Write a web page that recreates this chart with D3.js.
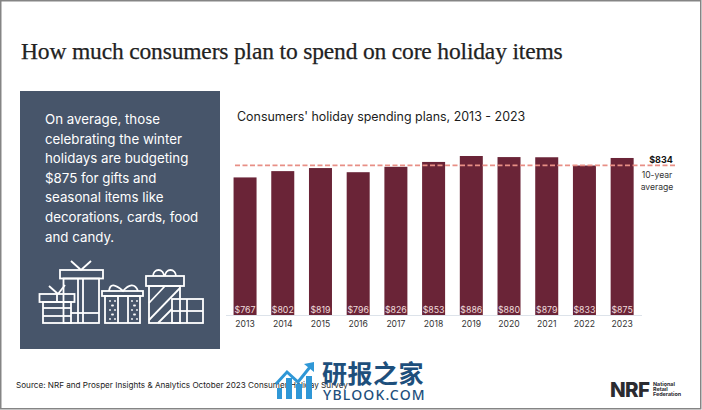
<!DOCTYPE html>
<html><head><meta charset="utf-8">
<script src="https://cdn.jsdelivr.net/npm/d3@7"></script>
<style>html,body{margin:0;padding:0;background:#fff}svg{display:block}text{font-family:Inter,"Open Sans",sans-serif}</style>
</head><body><svg id="c" width="702" height="410"></svg>
<script>
const years=["2013","2014","2015","2016","2017","2018","2019","2020","2021","2022","2023"];
const spending=[767,802,819,796,826,853,886,880,879,833,875];
const average=834;
const panelLines=["On average, those","celebrating the winter","holidays are budgeting","$875 for gifts and","seasonal items like","decorations, cards, food","and candy."];
const svg=d3.select("#c");
const barColor="#6a2437", panel="#47556a", ink="#1c1c1c";
svg.append("rect").attr("x",.75).attr("y",.75).attr("width",700).attr("height",408).attr("fill","#fff").attr("stroke","#858585").attr("stroke-width",1.5);
svg.append("text").attr("x",21).attr("y",59).attr("font-size",23.5).style("font-family","'Liberation Serif',serif").attr("letter-spacing",-.16).attr("stroke","#222").attr("stroke-width",.25).attr("fill","#222").text("How much consumers plan to spend on core holiday items");
svg.append("rect").attr("x",20).attr("y",91).attr("width",200).attr("height",258).attr("fill",panel);
svg.append("g").selectAll("text").data(panelLines).join("text").attr("x",45).attr("y",(d,i)=>124+i*19.6).attr("font-size",13.3).attr("fill","#fff").text(d=>d);
svg.append("text").attr("x",237).attr("y",121).attr("font-size",12.45).attr("fill",ink).text("Consumers' holiday spending plans, 2013 - 2023");
const x=d3.scaleBand().domain(years).range([226.2,641]).paddingInner(.39).paddingOuter(.195);
const y=d3.scaleLinear().domain([0,886]).range([315.5,156]);
svg.append("g").selectAll("rect").data(spending).join("rect").attr("x",(d,i)=>x(years[i])).attr("width",x.bandwidth()).attr("y",d=>y(d)).attr("height",d=>y(0)-y(d)).attr("fill",barColor);
svg.append("line").attr("x1",226).attr("x2",642).attr("y1",y(0)).attr("y2",y(0)).attr("stroke","#dde3ea");
svg.append("g").selectAll("text").data(spending).join("text").attr("x",(d,i)=>x(years[i])+x.bandwidth()/2).attr("y",312.5).attr("text-anchor","middle").attr("font-size",8.8).attr("fill","#efdcdc").text(d=>"$"+d);
svg.append("g").selectAll("text").data(years).join("text").attr("x",d=>x(d)+x.bandwidth()/2).attr("y",327).attr("text-anchor","middle").attr("font-size",8.6).attr("fill","#333").text(d=>d);
svg.append("line").attr("x1",235).attr("x2",675).attr("y1",y(average)).attr("y2",y(average)).attr("stroke","#e88f86").attr("stroke-width",1.8).attr("stroke-dasharray","5 2.5");
svg.append("text").attr("x",661).attr("y",163).attr("text-anchor","middle").attr("font-size",9).attr("font-weight",700).attr("fill","#111").text("$"+average);
svg.append("text").attr("x",657).attr("y",178).attr("text-anchor","middle").attr("font-size",8.6).attr("fill","#333").text("10-year");
svg.append("text").attr("x",657).attr("y",190).attr("text-anchor","middle").attr("font-size",8.6).attr("fill","#333").text("average");
svg.append("text").attr("x",16).attr("y",388).attr("font-size",8.15).attr("fill","#222").text("Source: NRF and Prosper Insights & Analytics October 2023 Consumer Holiday Survey");

// gift icon
const g=svg.append("g").attr("fill","none").attr("stroke","#fff").attr("stroke-width",1.8);
const boxes=[[39.5,294,35,8],[43,302,28,21],[60,270,43,8.5],[63.5,278.5,35.5,44.5],[102,291,41,5],[105,296,35,27],[146,276,38,10],[149,286,31,37],[172,299,31,24]];
boxes.forEach(b=>g.append("rect").attr("x",b[0]).attr("y",b[1]).attr("width",b[2]).attr("height",b[3]));
const segs=[[43,308,71,308],[43,316,71,316],[57,294,57,302],[78,278,78,323],[83,278,83,323],[71,313,99,313],[71,261,81,270],[91,261,81,270],[49,286,58,294],[65,285,58,294],[118,296,118,323],[128,296,128,323],[149,303,165,286],[149,320,180,288],[158,323,172,309],[187,299,187,323],[172,311,203,311]];
g.selectAll("line").data(segs).join("line").attr("x1",d=>d[0]).attr("y1",d=>d[1]).attr("x2",d=>d[2]).attr("y2",d=>d[3]);
g.append("path").attr("d","M153 276a5.5 6 0 1 1 11 0M165 276a5.5 6 0 1 1 11 0M109 291c1-8 6-7 14 0c6-7 12-8 15 0");
const dots=[];[112,134].forEach(cx=>{for(let r=0;r<5;r++){dots.push([cx-2+(r%2)*3,301+r*4.5]);dots.push([cx+3-(r%2)*3,301+r*4.5]);}});
svg.append("g").selectAll("circle").data(dots).join("circle").attr("cx",d=>d[0]).attr("cy",d=>d[1]).attr("r",.9).attr("fill","#fff");

// watermark
const wm=svg.append("g");
wm.selectAll("rect").data([[277,388,5,11],[286,378,6,21],[296,384,6,15],[306,376,6,23]]).join("rect").attr("x",d=>d[0]).attr("y",d=>d[1]).attr("width",d=>d[2]).attr("height",d=>d[3]).attr("fill","#2f97d6");
wm.append("path").attr("d","M276 384L287 372L298 382L310 367").attr("fill","none").attr("stroke","#2f97d6").attr("stroke-width",3);
wm.append("path").attr("d","M304 364L314 362L314 372Z").attr("fill","#2f97d6");
wm.append("text").attr("x",322).attr("y",382.5).attr("font-size",25).style("font-family","'Noto Sans CJK SC'").attr("font-weight",700).attr("fill","#1e4f7c").attr("letter-spacing",.5).text("研报之家");
wm.append("text").attr("x",323).attr("y",399.5).attr("font-size",14).style("font-family","'Noto Sans'").attr("font-weight",500).attr("fill","#1e4f7c").attr("letter-spacing",1.2).text("YBLOOK.COM");

// logo
svg.append("text").attr("x",610).attr("y",397).attr("font-size",20.5).attr("font-weight",800).attr("letter-spacing",-.6).attr("fill","#2b2b30").text("NRF");
svg.append("g").selectAll("text").data(["National","Retail","Federation"]).join("text").attr("x",653).attr("y",(d,i)=>385.5+i*5.3).attr("font-size",5.4).attr("font-weight",700).attr("fill","#2b2b30").text(d=>d);
</script></body></html>
